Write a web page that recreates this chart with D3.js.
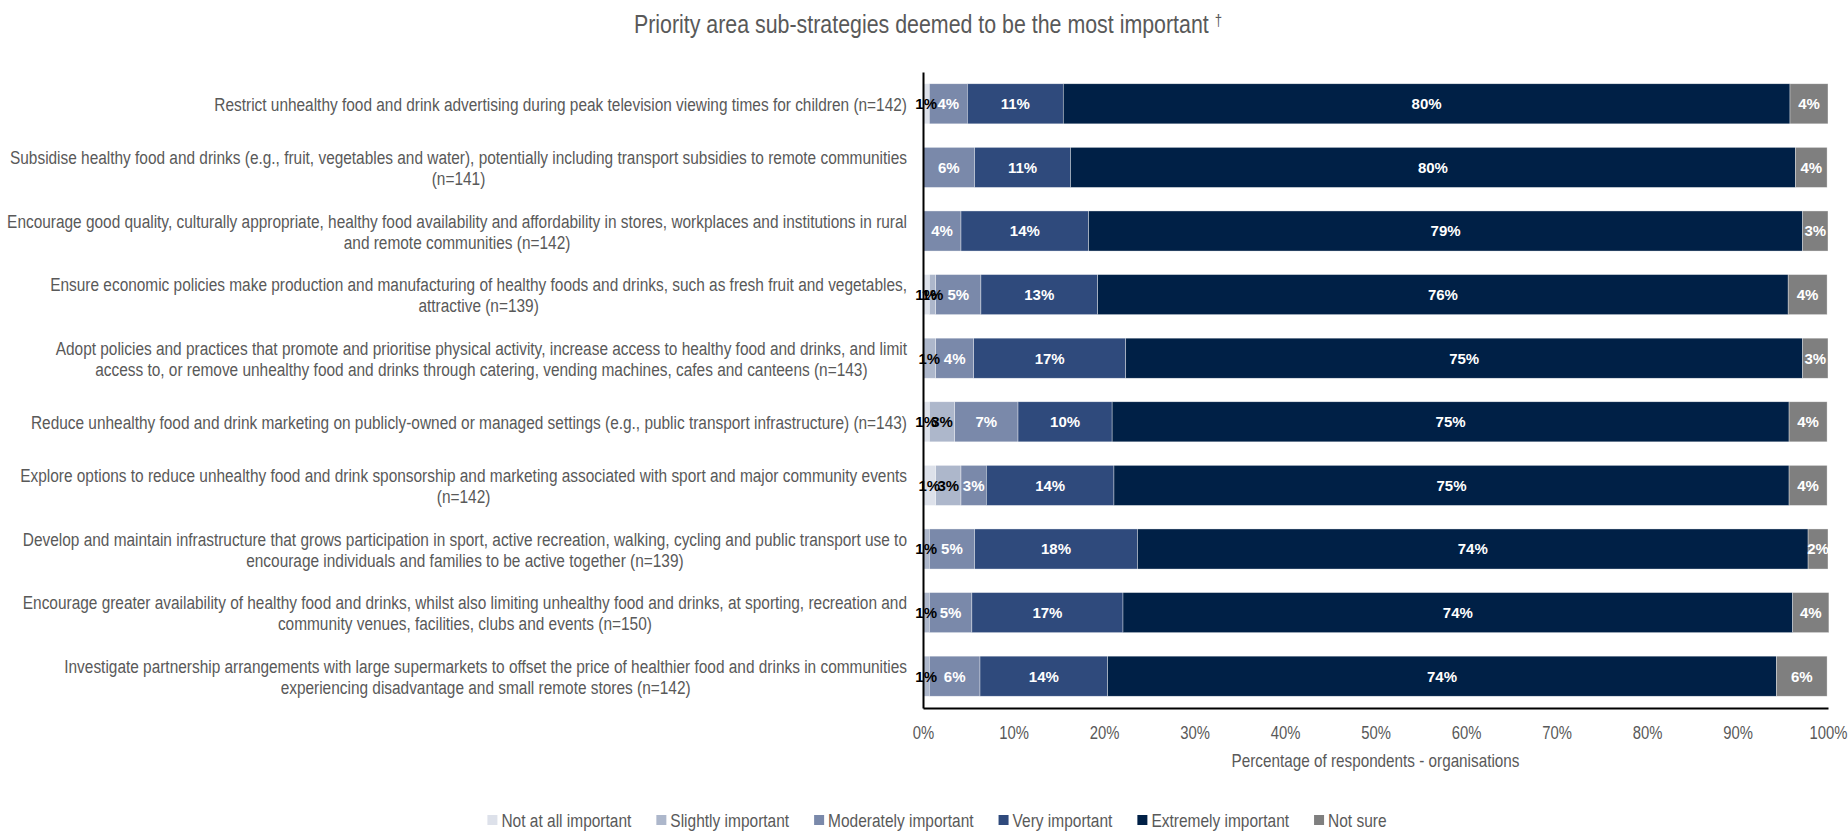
<!DOCTYPE html>
<html>
<head>
<meta charset="utf-8">
<script src="https://cdn.jsdelivr.net/npm/d3@7"></script>
<style>
  html, body { margin: 0; padding: 0; background: #ffffff; }
  svg { display: block; }
  text { font-family: "Liberation Sans", Arial, sans-serif; }
  .val { font-weight: bold; }
</style>
</head>
<body>
<svg id="chart" width="1848" height="831"></svg>
<script>
// Sub-strategies (line breaks as wrapped in the axis labels)
const categories = [
  "Restrict unhealthy food and drink advertising during peak television viewing times for children (n=142)",
  "Subsidise healthy food and drinks (e.g., fruit, vegetables and water), potentially including transport subsidies to remote communities\n(n=141)",
  "Encourage good quality, culturally appropriate, healthy food availability and affordability in stores, workplaces and institutions in rural\nand remote communities (n=142)",
  "Ensure economic policies make production and manufacturing of healthy foods and drinks, such as fresh fruit and vegetables,\nattractive (n=139)",
  "Adopt policies and practices that promote and prioritise physical activity, increase access to healthy food and drinks, and limit\naccess to, or remove unhealthy food and drinks through catering, vending machines, cafes and canteens (n=143)",
  "Reduce unhealthy food and drink marketing on publicly-owned or managed settings (e.g., public transport infrastructure) (n=143)",
  "Explore options to reduce unhealthy food and drink sponsorship and marketing associated with sport and major community events\n(n=142)",
  "Develop and maintain infrastructure that grows participation in sport, active recreation, walking, cycling and public transport use to\nencourage individuals and families to be active together (n=139)",
  "Encourage greater availability of healthy food and drinks, whilst also limiting unhealthy food and drinks, at sporting, recreation and\ncommunity venues, facilities, clubs and events (n=150)",
  "Investigate partnership arrangements with large supermarkets to offset the price of healthier food and drinks in communities\nexperiencing disadvantage and small remote stores (n=142)"
];

const seriesNames = ["Not at all important", "Slightly important", "Moderately important",
                     "Very important", "Extremely important", "Not sure"];

// Percentage of respondents per response, one value per sub-strategy
const notAtAll   = [0.7, 0,    0,    0.7,  0,    0.7,  1.4,  0,    0,    0];
const slightly   = [0,   0,    0,    0.7,  1.4,  2.8,  2.8,  0.7,  0.7,  0.7];
const moderately = [4.2, 5.7,  4.2,  5.0,  4.2,  7.0,  2.8,  5.0,  4.7,  5.6];
const very       = [10.6, 10.6, 14.1, 12.9, 16.8, 10.4, 14.1, 18.0, 16.7, 14.1];
const extremely  = [80.3, 80.1, 78.9, 76.3, 74.8, 74.8, 74.6, 74.1, 74.0, 73.9];
const notSure    = [4.2, 3.5,  2.8,  4.3,  2.8,  4.2,  4.2,  2.2,  4.0,  5.6];

const xTicks = [0, 10, 20, 30, 40, 50, 60, 70, 80, 90, 100];

const titleText = "Priority area sub-strategies deemed to be the most important";
const xTitle = "Percentage of respondents - organisations";

// ---- styling ----
const fills = ["#dde1ea", "#adb7cb", "#7a89aa", "#2f4a7c", "#002046", "#7f7f7f"];
const labelInk = ["#000000", "#000000", "#ffffff", "#ffffff", "#ffffff", "#ffffff"];
const greyText = "#595959";
const narrow = 0.82;   // horizontal compression giving a narrow sans look

const svg = d3.select("#chart");
const plot = { left: 923, right: 1828, top: 72, bottom: 708 };

// Font size at which a sample string, once compressed, spans a given width
function fitSize(sample, targetWidth, base) {
  const t = svg.append("text").style("font-size", base + "px").text(sample);
  const w = t.node().getComputedTextLength();
  t.remove();
  return w > 0 ? base * targetWidth / (w * narrow) : base;
}

const catSize   = fitSize("Subsidise healthy food and drinks (e.g., fruit, vegetables and water), potentially including transport subsidies to remote communities", 898, 16);
const tickSize  = fitSize("100%", 38, 15);
const axisTSize = fitSize(xTitle, 288, 15);
const legSize   = fitSize("Not at all important", 130, 15);
const titleSize = fitSize(titleText, 575, 20);

// ---- data table ----
const keys = ["na", "sl", "mo", "ve", "ex", "ns"];
const table = categories.map((c, i) => ({
  cat: c, na: notAtAll[i], sl: slightly[i], mo: moderately[i],
  ve: very[i], ex: extremely[i], ns: notSure[i]
}));
const stacked = d3.stack().keys(keys)(table);

// ---- scales ----
const x = d3.scaleLinear().domain([0, 100]).range([plot.left, plot.right]);
const y = d3.scaleBand().domain(categories).range([plot.top, plot.bottom])
  .paddingInner(0.37).paddingOuter(0.185);

// ---- bars ----
const layers = svg.append("g").selectAll("g").data(stacked).join("g")
  .attr("fill", (d, i) => fills[i]);

layers.selectAll("rect").data(d => d.filter(s => s[1] - s[0] > 0))
  .join("rect")
  .attr("x", s => x(s[0]))
  .attr("y", s => y(s.data.cat))
  .attr("width", s => x(s[1]) - x(s[0]))
  .attr("height", y.bandwidth())
  .attr("stroke", "#ffffff")
  .attr("stroke-width", 0.6)
  .attr("stroke-opacity", 0.6);

// ---- segment value labels ----
stacked.forEach((layer, li) => {
  svg.append("g").selectAll("text")
    .data(layer.filter(s => s[1] - s[0] > 0))
    .join("text")
    .attr("class", "val")
    .attr("x", s => x((s[0] + s[1]) / 2))
    .attr("y", s => y(s.data.cat) + y.bandwidth() / 2)
    .attr("dy", "0.36em")
    .attr("text-anchor", "middle")
    .style("font-size", "15px")
    .attr("fill", labelInk[li])
    .text(s => Math.round(s[1] - s[0]) + "%");
});

// ---- axes ----
const yAxis = svg.append("g")
  .attr("transform", `translate(${plot.left},0)`)
  .call(d3.axisLeft(y).tickSize(0).tickFormat(""));
yAxis.select(".domain").attr("stroke", "#000").attr("stroke-width", 2);

const xAxis = svg.append("g")
  .attr("transform", `translate(0,${plot.bottom})`)
  .call(d3.axisBottom(x).tickValues(xTicks).tickSize(0).tickPadding(18)
    .tickFormat(d => d + "%"));
xAxis.attr("font-family", null).attr("font-size", null);
xAxis.select(".domain").attr("stroke", "#000").attr("stroke-width", 2);
xAxis.selectAll(".tick text")
  .style("font-size", tickSize + "px")
  .attr("fill", greyText)
  .attr("transform", `scale(${narrow},1)`);

svg.append("g")
  .attr("transform", `translate(${(plot.left + plot.right) / 2},760) scale(${narrow},1)`)
  .append("text")
  .attr("dy", "0.35em")
  .attr("text-anchor", "middle")
  .style("font-size", axisTSize + "px")
  .attr("fill", greyText)
  .text(xTitle);

// ---- category labels (block right-aligned, lines centred within block) ----
const labelRight = 907;
const lineH = 21;
const catG = svg.append("g").style("font-size", catSize + "px").attr("fill", greyText);
categories.forEach(c => {
  const lines = c.split("\n");
  const cy = y(c) + y.bandwidth() / 2;
  const g = catG.append("g");
  const texts = lines.map((ln, i) => g.append("text")
    .attr("y", cy + (i - (lines.length - 1) / 2) * lineH + 0.5)
    .attr("dy", "0.35em")
    .attr("text-anchor", "middle")
    .text(ln));
  const maxW = d3.max(texts, t => t.node().getComputedTextLength()) * narrow;
  g.attr("transform", `translate(${labelRight - maxW / 2},0) scale(${narrow},1)`);
});

// ---- title ----
const title = svg.append("g")
  .attr("transform", `translate(928,24) scale(${narrow},1)`)
  .append("text")
  .attr("dy", "0.35em")
  .attr("text-anchor", "middle")
  .style("font-size", titleSize + "px")
  .attr("fill", greyText);
title.append("tspan").text(titleText + " ");
title.append("tspan").attr("dy", "-0.45em").style("font-size", (titleSize * 0.62) + "px").text("†");

// ---- legend ----
const sq = 10, sqGap = 4, itemGap = 25, legendY = 820;
const leg = svg.append("g").style("font-size", legSize + "px").attr("fill", greyText);
const items = seriesNames.map((name, i) => {
  const g = leg.append("g");
  g.append("rect").attr("width", sq).attr("height", sq).attr("y", -sq / 2).attr("fill", fills[i]);
  const t = g.append("g")
    .attr("transform", `translate(${sq + sqGap},0) scale(${narrow},1)`)
    .append("text").attr("dy", "0.35em").text(name);
  return { g, w: sq + sqGap + t.node().getComputedTextLength() * narrow };
});
const totalW = d3.sum(items, d => d.w) + itemGap * (items.length - 1);
let cursor = 937 - totalW / 2;
items.forEach(it => {
  it.g.attr("transform", `translate(${cursor},${legendY})`);
  cursor += it.w + itemGap;
});
</script>
</body>
</html>
